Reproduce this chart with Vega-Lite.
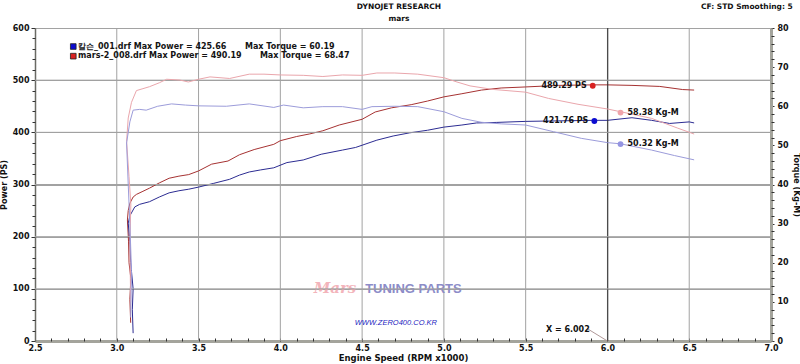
{
  "$schema": "https://vega.github.io/schema/vega-lite/v6.json",
  "width": 736,
  "height": 313,
  "autosize": "none",
  "padding": {"left": 35, "top": 28, "right": 29, "bottom": 23},
  "background": "white",
  "config": {
    "view": {"stroke": "#8c8c84", "strokeWidth": 1},
    "font": "DejaVu Sans",
    "axis": {
      "labelFont": "DejaVu Sans", "labelFontWeight": "bold", "labelFontSize": 8, "labelColor": "#111111",
      "titleFont": "DejaVu Sans", "titleFontWeight": "bold", "titleFontSize": 8, "titleColor": "#111111",
      "tickColor": "#333333", "labelOverlap": false, "labelFlush": false, "grid": false
    }
  },
  "datasets": {
    "power": [
      {"s":"RP","i":1,"rpm":3.085,"v":35},{"s":"RP","i":2,"rpm":3.08,"v":80},{"s":"RP","i":3,"rpm":3.086,"v":120},{"s":"RP","i":4,"rpm":3.075,"v":150},{"s":"RP","i":5,"rpm":3.072,"v":190},{"s":"RP","i":6,"rpm":3.065,"v":232},{"s":"RP","i":7,"rpm":3.07,"v":250},{"s":"RP","i":8,"rpm":3.08,"v":264},{"s":"RP","i":9,"rpm":3.10,"v":276},{"s":"RP","i":10,"rpm":3.12,"v":281},{"s":"RP","i":11,"rpm":3.16,"v":287},{"s":"RP","i":12,"rpm":3.20,"v":293},{"s":"RP","i":13,"rpm":3.26,"v":303},{"s":"RP","i":14,"rpm":3.32,"v":312},{"s":"RP","i":15,"rpm":3.38,"v":316},{"s":"RP","i":16,"rpm":3.44,"v":319},{"s":"RP","i":17,"rpm":3.50,"v":326},{"s":"RP","i":18,"rpm":3.58,"v":339},{"s":"RP","i":19,"rpm":3.68,"v":345},{"s":"RP","i":20,"rpm":3.75,"v":357},{"s":"RP","i":21,"rpm":3.84,"v":367},{"s":"RP","i":22,"rpm":3.96,"v":377},{"s":"RP","i":23,"rpm":4.00,"v":384},{"s":"RP","i":24,"rpm":4.10,"v":392},{"s":"RP","i":25,"rpm":4.18,"v":397},{"s":"RP","i":26,"rpm":4.26,"v":403},{"s":"RP","i":27,"rpm":4.36,"v":414},{"s":"RP","i":28,"rpm":4.50,"v":425},{"s":"RP","i":29,"rpm":4.58,"v":439},{"s":"RP","i":30,"rpm":4.68,"v":447},{"s":"RP","i":31,"rpm":4.80,"v":453},{"s":"RP","i":32,"rpm":4.90,"v":460},{"s":"RP","i":33,"rpm":5.00,"v":468},{"s":"RP","i":34,"rpm":5.11,"v":474},{"s":"RP","i":35,"rpm":5.23,"v":481},{"s":"RP","i":36,"rpm":5.35,"v":485},{"s":"RP","i":37,"rpm":5.50,"v":487},{"s":"RP","i":38,"rpm":5.70,"v":490},{"s":"RP","i":39,"rpm":5.91,"v":491},{"s":"RP","i":40,"rpm":6.00,"v":491},{"s":"RP","i":41,"rpm":6.15,"v":490},{"s":"RP","i":42,"rpm":6.32,"v":488},{"s":"RP","i":43,"rpm":6.46,"v":482},{"s":"RP","i":44,"rpm":6.53,"v":481},
      {"s":"BP","i":1,"rpm":3.10,"v":15},{"s":"BP","i":2,"rpm":3.095,"v":60},{"s":"BP","i":3,"rpm":3.10,"v":100},{"s":"BP","i":4,"rpm":3.085,"v":150},{"s":"BP","i":5,"rpm":3.08,"v":190},{"s":"BP","i":6,"rpm":3.07,"v":226},{"s":"BP","i":7,"rpm":3.08,"v":240},{"s":"BP","i":8,"rpm":3.11,"v":257},{"s":"BP","i":9,"rpm":3.14,"v":262},{"s":"BP","i":10,"rpm":3.20,"v":267},{"s":"BP","i":11,"rpm":3.26,"v":276},{"s":"BP","i":12,"rpm":3.32,"v":284},{"s":"BP","i":13,"rpm":3.38,"v":288},{"s":"BP","i":14,"rpm":3.44,"v":291},{"s":"BP","i":15,"rpm":3.50,"v":295},{"s":"BP","i":16,"rpm":3.59,"v":302},{"s":"BP","i":17,"rpm":3.69,"v":310},{"s":"BP","i":18,"rpm":3.75,"v":318},{"s":"BP","i":19,"rpm":3.81,"v":324},{"s":"BP","i":20,"rpm":3.88,"v":328},{"s":"BP","i":21,"rpm":3.96,"v":332},{"s":"BP","i":22,"rpm":4.04,"v":342},{"s":"BP","i":23,"rpm":4.14,"v":347},{"s":"BP","i":24,"rpm":4.25,"v":358},{"s":"BP","i":25,"rpm":4.38,"v":366},{"s":"BP","i":26,"rpm":4.46,"v":371},{"s":"BP","i":27,"rpm":4.59,"v":385},{"s":"BP","i":28,"rpm":4.69,"v":393},{"s":"BP","i":29,"rpm":4.79,"v":399},{"s":"BP","i":30,"rpm":4.90,"v":404},{"s":"BP","i":31,"rpm":5.00,"v":410},{"s":"BP","i":32,"rpm":5.11,"v":414},{"s":"BP","i":33,"rpm":5.20,"v":418},{"s":"BP","i":34,"rpm":5.32,"v":419},{"s":"BP","i":35,"rpm":5.50,"v":421},{"s":"BP","i":36,"rpm":5.70,"v":422},{"s":"BP","i":37,"rpm":5.92,"v":423},{"s":"BP","i":38,"rpm":6.00,"v":423},{"s":"BP","i":39,"rpm":6.15,"v":428},{"s":"BP","i":40,"rpm":6.27,"v":423},{"s":"BP","i":41,"rpm":6.38,"v":417},{"s":"BP","i":42,"rpm":6.50,"v":420},{"s":"BP","i":43,"rpm":6.53,"v":418}
    ],
    "torque": [
      {"s":"RT","i":1,"rpm":3.085,"v":10},{"s":"RT","i":2,"rpm":3.08,"v":25},{"s":"RT","i":3,"rpm":3.086,"v":35},{"s":"RT","i":4,"rpm":3.075,"v":42},{"s":"RT","i":5,"rpm":3.06,"v":51},{"s":"RT","i":6,"rpm":3.07,"v":57},{"s":"RT","i":7,"rpm":3.09,"v":61},{"s":"RT","i":8,"rpm":3.12,"v":64},{"s":"RT","i":9,"rpm":3.16,"v":64.5},{"s":"RT","i":10,"rpm":3.20,"v":65},{"s":"RT","i":11,"rpm":3.26,"v":66},{"s":"RT","i":12,"rpm":3.305,"v":66.9},{"s":"RT","i":13,"rpm":3.386,"v":66.7},{"s":"RT","i":14,"rpm":3.437,"v":66.2},{"s":"RT","i":15,"rpm":3.50,"v":66.9},{"s":"RT","i":16,"rpm":3.57,"v":67.5},{"s":"RT","i":17,"rpm":3.69,"v":67.1},{"s":"RT","i":18,"rpm":3.81,"v":68.2},{"s":"RT","i":19,"rpm":3.90,"v":68.2},{"s":"RT","i":20,"rpm":4.00,"v":68.0},{"s":"RT","i":21,"rpm":4.14,"v":67.9},{"s":"RT","i":22,"rpm":4.26,"v":67.6},{"s":"RT","i":23,"rpm":4.38,"v":68.0},{"s":"RT","i":24,"rpm":4.50,"v":67.9},{"s":"RT","i":25,"rpm":4.59,"v":68.5},{"s":"RT","i":26,"rpm":4.70,"v":68.5},{"s":"RT","i":27,"rpm":4.84,"v":68.2},{"s":"RT","i":28,"rpm":5.00,"v":67.3},{"s":"RT","i":29,"rpm":5.08,"v":66.2},{"s":"RT","i":30,"rpm":5.16,"v":65.2},{"s":"RT","i":31,"rpm":5.30,"v":64.3},{"s":"RT","i":32,"rpm":5.50,"v":63.6},{"s":"RT","i":33,"rpm":5.64,"v":62.0},{"s":"RT","i":34,"rpm":5.82,"v":60.5},{"s":"RT","i":35,"rpm":6.00,"v":59.3},{"s":"RT","i":36,"rpm":6.08,"v":58.6},{"s":"RT","i":37,"rpm":6.27,"v":56.9},{"s":"RT","i":38,"rpm":6.43,"v":54.4},{"s":"RT","i":39,"rpm":6.53,"v":52.9},
      {"s":"BT","i":1,"rpm":3.085,"v":6},{"s":"BT","i":2,"rpm":3.09,"v":18},{"s":"BT","i":3,"rpm":3.08,"v":30},{"s":"BT","i":4,"rpm":3.07,"v":40},{"s":"BT","i":5,"rpm":3.06,"v":50.6},{"s":"BT","i":6,"rpm":3.08,"v":56},{"s":"BT","i":7,"rpm":3.10,"v":59},{"s":"BT","i":8,"rpm":3.14,"v":59.2},{"s":"BT","i":9,"rpm":3.18,"v":59.0},{"s":"BT","i":10,"rpm":3.25,"v":60.0},{"s":"BT","i":11,"rpm":3.335,"v":60.6},{"s":"BT","i":12,"rpm":3.42,"v":60.3},{"s":"BT","i":13,"rpm":3.50,"v":60.1},{"s":"BT","i":14,"rpm":3.67,"v":60.0},{"s":"BT","i":15,"rpm":3.81,"v":60.6},{"s":"BT","i":16,"rpm":3.96,"v":59.7},{"s":"BT","i":17,"rpm":4.02,"v":60.3},{"s":"BT","i":18,"rpm":4.14,"v":59.6},{"s":"BT","i":19,"rpm":4.26,"v":59.9},{"s":"BT","i":20,"rpm":4.38,"v":59.9},{"s":"BT","i":21,"rpm":4.50,"v":59.2},{"s":"BT","i":22,"rpm":4.56,"v":59.9},{"s":"BT","i":23,"rpm":4.70,"v":60.0},{"s":"BT","i":24,"rpm":4.84,"v":59.9},{"s":"BT","i":25,"rpm":5.00,"v":58.6},{"s":"BT","i":26,"rpm":5.11,"v":56.9},{"s":"BT","i":27,"rpm":5.23,"v":55.9},{"s":"BT","i":28,"rpm":5.35,"v":55.5},{"s":"BT","i":29,"rpm":5.50,"v":55.2},{"s":"BT","i":30,"rpm":5.67,"v":53.5},{"s":"BT","i":31,"rpm":5.84,"v":51.8},{"s":"BT","i":32,"rpm":6.00,"v":50.7},{"s":"BT","i":33,"rpm":6.08,"v":50.4},{"s":"BT","i":34,"rpm":6.27,"v":48.8},{"s":"BT","i":35,"rpm":6.41,"v":47.4},{"s":"BT","i":36,"rpm":6.53,"v":46.3}
    ],
    "pmark": [
      {"s":"RP","rpm":5.91,"v":489.29,"lab":"489.29 PS"},
      {"s":"BP","rpm":5.92,"v":421.76,"lab":"421.76 PS"}
    ],
    "tmark": [
      {"s":"RT","rpm":6.08,"v":58.38,"lab":"58.38 Kg-M"},
      {"s":"BT","rpm":6.08,"v":50.32,"lab":"50.32 Kg-M"}
    ],
    "legend": [
      {"s":"BP","rpm":2.734,"rpmt":2.763,"rpm2":3.784,"v":564.5,"t":"칼슨_001.drf Max Power = 425.66","t2":"Max Torque = 60.19"},
      {"s":"RP","rpm":2.734,"rpmt":2.763,"rpm2":3.875,"v":546,"t":"mars-2_008.drf Max Power = 490.19","t2":"Max Torque = 68.47"}
    ],
    "gridx": [{"g":3.0},{"g":3.5},{"g":4.0},{"g":4.5},{"g":5.0},{"g":5.5},{"g":6.0},{"g":6.5}],
    "gridt": [{"g":13.3333},{"g":26.6667},{"g":40},{"g":53.3333},{"g":66.6667}],
    "cursor": [{"rpm": 6.002}],
    "leader": [{"i":1,"rpm":5.875,"v":24},{"i":2,"rpm":6.0,"v":0}],
    "heads": [
      {"rpm": 4.725, "v": 640, "t": "DYNOJET RESEARCH"},
      {"rpm": 4.725, "v": 617, "t": "mars"}
    ]
  },
  "resolve": {"scale": {"y": "independent"}, "axis": {"x": "independent", "y": "independent"}},
  "layer": [
    {
      "resolve": {"axis": {"x": "independent", "y": "independent"}},
      "layer": [
        {
          "data": {"name": "gridx"},
          "mark": {"type": "rule", "color": "#a2a2a2", "strokeWidth": 1, "opacity": 1},
          "encoding": {"x": {"field": "g", "type": "quantitative", "scale": {"domain": [2.5, 7], "nice": false, "zero": false}, "axis": null}}
        },
        {
          "data": {"name": "power"},
          "mark": {"type": "line", "strokeWidth": 1, "interpolate": "linear"},
          "encoding": {
            "x": {"field": "rpm", "type": "quantitative", "scale": {"domain": [2.5, 7], "nice": false, "zero": false},
              "axis": {"orient": "bottom", "values": [2.5,3,3.5,4,4.5,5,5.5,6,6.5,7], "format": ".1f", "title": "Engine Speed (RPM x1000)", "titleFontSize": 8.5, "titlePadding": 1, "labelPadding": 3, "ticks": false,
                "domainColor": "#a4a49c", "domainWidth": 3}},
            "y": {"field": "v", "type": "quantitative", "scale": {"domain": [0, 600], "nice": false},
              "axis": {"orient": "left", "values": [0,100,200,300,400,500,600], "format": "d", "title": "Power (PS)", "titlePadding": 4, "tickSize": 4, "labelPadding": 2,
                "grid": true, "gridColor": "#a2a2a2", "gridWidth": 1, "gridOpacity": 1,
                "domainColor": "#6a6a64", "domainWidth": 1.5}},
            "color": {"field": "s", "type": "nominal", "scale": {"domain": ["RP","BP","RT","BT"], "range": ["#a63232","#2c2c92","#eaa6ac","#9c9cda"]}, "legend": null},
            "order": {"field": "i", "type": "quantitative"}
          }
        },
        {
          "data": {"name": "pmark"},
          "mark": {"type": "point", "filled": true, "size": 34, "opacity": 1},
          "encoding": {
            "x": {"field": "rpm", "type": "quantitative", "scale": {"domain": [2.5, 7], "nice": false, "zero": false},
              "axis": {"orient": "bottom", "values": [2.6,2.7,2.8,2.9,3.0,3.1,3.2,3.3,3.4,3.5,3.6,3.7,3.8,3.9,4.0,4.1,4.2,4.3,4.4,4.5,4.6,4.7,4.8,4.9,5.0,5.1,5.2,5.3,5.4,5.5,5.6,5.7,5.8,5.9,6.0,6.1,6.2,6.3,6.4,6.5,6.6,6.7,6.8,6.9],
                "labels": false, "domain": false, "title": null, "tickSize": -3, "tickColor": "#333333"}},
            "y": {"field": "v", "type": "quantitative", "scale": {"domain": [0, 600], "nice": false},
              "axis": {"orient": "left", "values": [20,40,60,80,120,140,160,180,220,240,260,280,320,340,360,380,420,440,460,480,520,540,560,580],
                "labels": false, "domain": false, "title": null, "tickSize": 3}},
            "fill": {"field": "s", "type": "nominal", "scale": {"domain": ["RP","BP","RT","BT"], "range": ["#d82222","#0c0cd0","#f0a4aa","#9494e2"]}, "legend": null}
          }
        },
        {
          "data": {"name": "pmark"},
          "mark": {"type": "text", "align": "right", "baseline": "middle", "dx": -6, "fontSize": 8, "fontWeight": "bold", "color": "#111111"},
          "encoding": {
            "x": {"field": "rpm", "type": "quantitative", "axis": null},
            "y": {"field": "v", "type": "quantitative", "axis": null},
            "text": {"field": "lab"}
          }
        },
        {
          "data": {"name": "cursor"},
          "mark": {"type": "rule", "color": "#2a2a2a", "strokeWidth": 1},
          "encoding": {"x": {"field": "rpm", "type": "quantitative", "axis": null}}
        },
        {
          "data": {"name": "leader"},
          "mark": {"type": "line", "color": "#b09898", "strokeWidth": 1},
          "encoding": {
            "x": {"field": "rpm", "type": "quantitative", "axis": null},
            "y": {"field": "v", "type": "quantitative", "axis": null},
            "order": {"field": "i", "type": "quantitative"}
          }
        },
        {
          "data": {"values": [{"rpm": 5.758, "v": 22, "t": "X = 6.002"}]},
          "mark": {"type": "text", "align": "center", "baseline": "middle", "fontSize": 8, "fontWeight": "bold", "color": "#111111"},
          "encoding": {
            "x": {"field": "rpm", "type": "quantitative", "axis": null},
            "y": {"field": "v", "type": "quantitative", "axis": null},
            "text": {"field": "t"}
          }
        },
        {
          "data": {"name": "legend"},
          "mark": {"type": "point", "shape": "square", "filled": true, "size": 32, "stroke": "#222222", "strokeWidth": 0.8, "opacity": 1},
          "encoding": {
            "x": {"field": "rpm", "type": "quantitative", "axis": null},
            "y": {"field": "v", "type": "quantitative", "axis": null},
            "fill": {"field": "s", "type": "nominal", "legend": null}
          }
        },
        {
          "data": {"name": "legend"},
          "mark": {"type": "text", "align": "left", "baseline": "middle", "fontSize": 8, "fontWeight": "bold", "color": "#141414"},
          "encoding": {
            "x": {"field": "rpmt", "type": "quantitative", "axis": null},
            "y": {"field": "v", "type": "quantitative", "axis": null},
            "text": {"field": "t"}
          }
        },
        {
          "data": {"name": "legend"},
          "mark": {"type": "text", "align": "left", "baseline": "middle", "fontSize": 8, "fontWeight": "bold", "color": "#141414"},
          "encoding": {
            "x": {"field": "rpm2", "type": "quantitative", "axis": null},
            "y": {"field": "v", "type": "quantitative", "axis": null},
            "text": {"field": "t2"}
          }
        },
        {
          "data": {"values": [{"rpm": 4.334, "v": 102, "t": "Mars"}]},
          "mark": {"type": "text", "align": "center", "baseline": "middle", "font": "DejaVu Serif", "fontSize": 15, "fontStyle": "italic", "fontWeight": "bold", "color": "#f2a8b0", "opacity": 0.85},
          "encoding": {
            "x": {"field": "rpm", "type": "quantitative", "axis": null},
            "y": {"field": "v", "type": "quantitative", "axis": null},
            "text": {"field": "t"}
          }
        },
        {
          "data": {"values": [{"rpm": 4.8136, "v": 100, "t": "TUNING PARTS"}]},
          "mark": {"type": "text", "align": "center", "baseline": "middle", "font": "Liberation Sans", "fontSize": 13, "fontWeight": "bold", "color": "#8c8cc8"},
          "encoding": {
            "x": {"field": "rpm", "type": "quantitative", "axis": null},
            "y": {"field": "v", "type": "quantitative", "axis": null},
            "text": {"field": "t"}
          }
        },
        {
          "data": {"values": [{"rpm": 4.7066, "v": 34.5, "t": "WWW.ZERO400.CO.KR"}]},
          "mark": {"type": "text", "align": "center", "baseline": "middle", "font": "Liberation Sans", "fontSize": 7.5, "fontStyle": "italic", "color": "#2424c0"},
          "encoding": {
            "x": {"field": "rpm", "type": "quantitative", "axis": null},
            "y": {"field": "v", "type": "quantitative", "axis": null},
            "text": {"field": "t"}
          }
        },
        {
          "data": {"name": "heads"},
          "mark": {"type": "text", "align": "center", "baseline": "middle", "fontSize": 7.5, "fontWeight": "bold", "color": "#111111"},
          "encoding": {
            "x": {"field": "rpm", "type": "quantitative", "axis": null},
            "y": {"field": "v", "type": "quantitative", "axis": null},
            "text": {"field": "t"}
          }
        },
        {
          "data": {"values": [{"rpm": 7.133, "v": 640, "t": "CF: STD  Smoothing: 5"}]},
          "mark": {"type": "text", "align": "right", "baseline": "middle", "fontSize": 7.5, "fontWeight": "bold", "color": "#111111"},
          "encoding": {
            "x": {"field": "rpm", "type": "quantitative", "axis": null},
            "y": {"field": "v", "type": "quantitative", "axis": null},
            "text": {"field": "t"}
          }
        }
      ]
    },
    {
      "resolve": {"axis": {"y": "independent"}},
      "layer": [
        {
          "data": {"name": "gridt"},
          "mark": {"type": "rule", "color": "#a2a2a2", "strokeWidth": 1, "opacity": 1},
          "encoding": {"y": {"field": "g", "type": "quantitative", "scale": {"domain": [0, 80], "nice": false}, "axis": null}}
        },
        {
          "data": {"name": "torque"},
          "mark": {"type": "line", "strokeWidth": 1, "interpolate": "linear"},
          "encoding": {
            "x": {"field": "rpm", "type": "quantitative", "axis": null},
            "y": {"field": "v", "type": "quantitative", "scale": {"domain": [0, 80], "nice": false},
              "axis": {"orient": "right", "values": [0,10,20,30,40,50,60,70,80], "format": "d", "title": "Torque (Kg-M)", "titlePadding": 3, "tickSize": 3, "labelPadding": 3,
                "domainColor": "#a4a49c", "domainWidth": 3}},
            "color": {"field": "s", "type": "nominal", "legend": null},
            "order": {"field": "i", "type": "quantitative"}
          }
        },
        {
          "data": {"name": "tmark"},
          "mark": {"type": "point", "filled": true, "size": 34, "opacity": 1},
          "encoding": {
            "x": {"field": "rpm", "type": "quantitative", "axis": null},
            "y": {"field": "v", "type": "quantitative", "scale": {"domain": [0, 80], "nice": false},
              "axis": {"orient": "right", "values": [2,4,6,8,12,14,16,18,22,24,26,28,32,34,36,38,42,44,46,48,52,54,56,58,62,64,66,68,72,74,76,78],
                "labels": false, "domain": false, "title": null, "tickSize": 3}},
            "fill": {"field": "s", "type": "nominal", "legend": null}
          }
        },
        {
          "data": {"name": "tmark"},
          "mark": {"type": "text", "align": "left", "baseline": "middle", "dx": 7, "fontSize": 8, "fontWeight": "bold", "color": "#111111"},
          "encoding": {
            "x": {"field": "rpm", "type": "quantitative", "axis": null},
            "y": {"field": "v", "type": "quantitative", "axis": null},
            "text": {"field": "lab"}
          }
        }
      ]
    }
  ]
}
